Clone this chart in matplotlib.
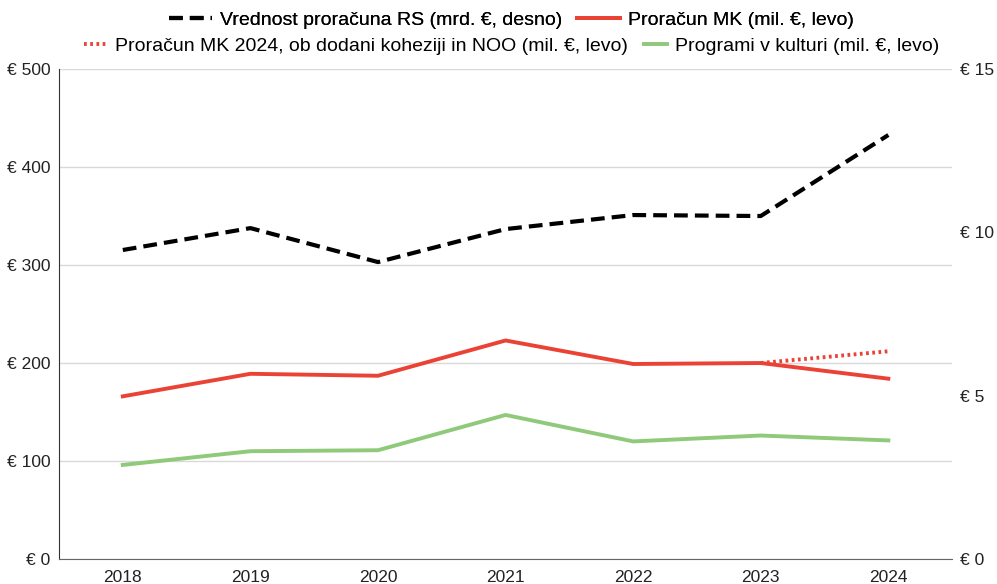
import matplotlib.pyplot as plt
from matplotlib.lines import Line2D

plt.rcParams['font.family'] = ['Liberation Sans', 'DejaVu Sans']

years = ['2018', '2019', '2020', '2021', '2022', '2023', '2024']
proracun_rs = [9.46, 10.13, 9.09, 10.1, 10.53, 10.5, 12.98]   # mrd. €, desno
proracun_mk = [166, 189, 187, 223, 199, 200, 184]             # mil. €, levo
proracun_mk_2024 = [200, 212]                                  # 2023-2024 z kohezijo in NOO
programi = [96, 110, 111, 147, 120, 126, 121]                  # mil. €, levo

left_ticks = [0, 100, 200, 300, 400, 500]
right_ticks = [0, 5, 10, 15]

red = '#EA4335'
green = '#8FC97A'
dash = (0, (3.3, 1.7))
dots = (0, (0.7, 0.9))

fig = plt.figure(figsize=(9.97, 5.84), dpi=100)
ax = fig.add_axes([0.0592, 0.0428, 0.8958, 0.839])
ax2 = ax.twinx()

x = list(range(len(years)))
ax.plot(x, proracun_mk, color=red, lw=2.8, zorder=3)
ax.plot(x[-2:], proracun_mk_2024, color=red, lw=2.8, linestyle=dots, zorder=2)
ax.plot(x, programi, color=green, lw=2.8, zorder=3)
ax2.plot(x, proracun_rs, color='black', lw=3, linestyle=dash)

ax.set_xlim(-0.5, len(years) - 0.5)
ax.set_ylim(0, 500)
ax2.set_ylim(0, 15)
ax.set_xticks(x)
ax.set_xticklabels(years)
ax.set_yticks(left_ticks)
ax.set_yticklabels(['€ %d' % v for v in left_ticks])
ax2.set_yticks(right_ticks)
ax2.set_yticklabels(['€ %d' % v for v in right_ticks])

ax.grid(axis='y', color='#D9D9D9', lw=1)
ax.set_axisbelow(True)
for a in (ax, ax2):
    a.spines['top'].set_visible(False)
    a.spines['right'].set_visible(False)
    a.tick_params(length=0, labelsize=12.5, colors='#222222', pad=6)
ax2.spines['left'].set_visible(False)
ax2.spines['bottom'].set_visible(False)
ax.spines['left'].set_color('#333333')
ax.spines['bottom'].set_color('#666666')
ax.tick_params(axis='x', pad=8)

h_rs = Line2D([], [], color='black', lw=3, linestyle=dash)
h_mk = Line2D([], [], color=red, lw=2.8)
h_mk24 = Line2D([], [], color=red, lw=2.8, linestyle=dots)
h_pr = Line2D([], [], color=green, lw=2.8)

leg1 = fig.legend([h_rs, h_mk],
                  ['Vrednost proračuna RS (mrd. €, desno)', 'Proračun MK (mil. €, levo)'],
                  loc='center', bbox_to_anchor=(0.513, 0.965), ncol=2, frameon=False,
                  fontsize=14, handlelength=2.2, columnspacing=0.8, handletextpad=0.4)
leg2 = fig.legend([h_mk24, h_pr],
                  ['Proračun MK 2024, ob dodani koheziji in NOO (mil. €, levo)',
                   'Programi v kulturi (mil. €, levo)'],
                  loc='center', bbox_to_anchor=(0.513, 0.921), ncol=2, frameon=False,
                  fontsize=14, handlelength=1.2, columnspacing=0.8, handletextpad=0.4)
fig.add_artist(leg1)

fig.savefig('out.png', dpi=100)
